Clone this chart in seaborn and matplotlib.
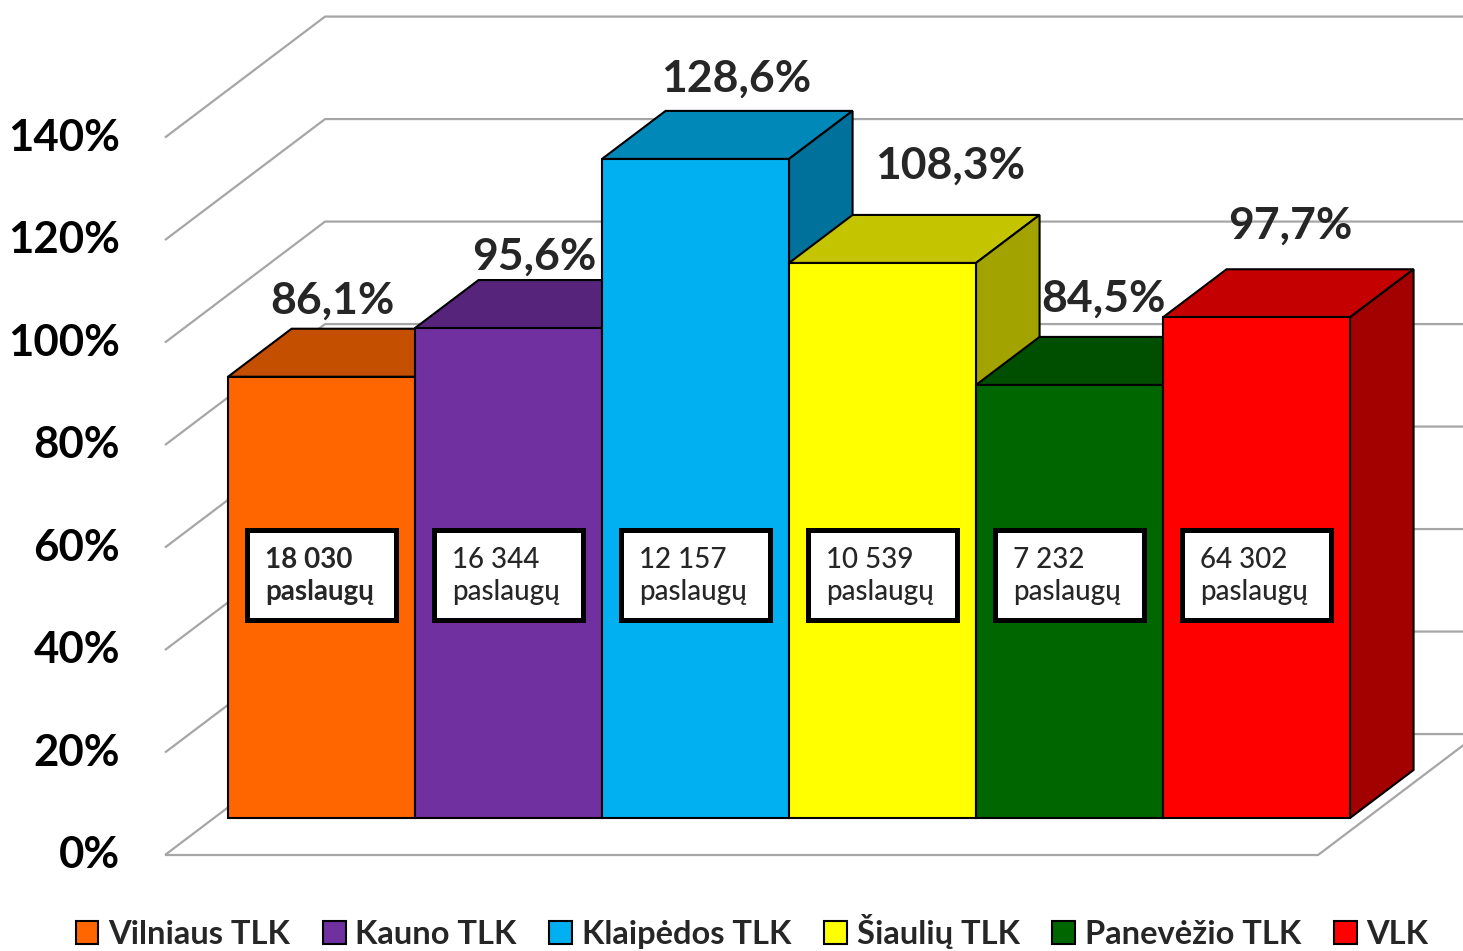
import matplotlib.pyplot as plt
import seaborn as sns
from matplotlib.patches import Polygon, Rectangle, Patch
from matplotlib.colors import to_rgb

# duomenys
categories = ["Vilniaus TLK", "Kauno TLK", "Klaipėdos TLK", "Šiaulių TLK", "Panevėžio TLK", "VLK"]
percent = [86.1, 95.6, 128.6, 108.3, 84.5, 97.7]
services = ["18 030", "16 344", "12 157", "10 539", "7 232", "64 302"]
colors = ["#FF6600", "#7030A0", "#00B0F0", "#FFFF00", "#006600", "#FF0000"]
yticks = [0, 20, 40, 60, 80, 100, 120, 140]

# value label nudges (Excel shifted them a bit)
label_dx = [0.06, 0.14, 0.22, 0.36, 0.18, 0.18]
label_dy = [2.9, 2.1, 3.7, 7.0, 4.9, 5.9]

sns.set_theme(style="white")
plt.rcParams['font.family'] = ['Lato', 'DejaVu Sans']

fig = plt.figure(figsize=(14.63, 9.51), dpi=100)
ax = fig.add_axes([0, 0, 1, 1])

# oblique "3d" geometry, in data units
wall_dx, wall_dy = 0.856, 23.6     # full floor depth
front = 0.306                      # bars sit this far back
bar_dx, bar_dy = 0.34, 9.37        # bar depth
fx0, fx1 = -0.837, 5.329
fy = -wall_dy * front
bx0, by = fx0 + wall_dx, fy + wall_dy

grid_kw = dict(color="#A6A6A6", lw=1.6, zorder=1, solid_capstyle="butt")
for v in yticks:
    ax.plot([fx0, bx0, 7], [v + fy, v + by, v + by], **grid_kw)
    ax.text(-1.0775, v + fy, f"{v}%", ha="right", va="center",
            fontsize=31.5, fontweight="bold", color="black")
# floor
ax.plot([fx0, fx1, fx1 + wall_dx], [fy, fy, by], **grid_kw)

sns.barplot(x=categories, y=percent, hue=categories, palette=colors,
            width=1.0, saturation=1, edgecolor="black", linewidth=1.5,
            legend=False, ax=ax, zorder=3)

bars = list(ax.patches)
for i, p in enumerate(bars):
    x0, w, h = p.get_x(), p.get_width(), p.get_height()
    rgb = to_rgb(colors[i])
    top_c = tuple(c * 0.77 for c in rgb)
    side_c = tuple(c * 0.64 for c in rgb)
    top = Polygon([(x0, h), (x0 + w, h), (x0 + w + bar_dx, h + bar_dy), (x0 + bar_dx, h + bar_dy)],
                  closed=True, fc=top_c, ec="black", lw=1.5, zorder=2 + i * 0.01)
    side = Polygon([(x0 + w, 0), (x0 + w + bar_dx, bar_dy), (x0 + w + bar_dx, h + bar_dy), (x0 + w, h)],
                   closed=True, fc=side_c, ec="black", lw=1.5, zorder=2 + i * 0.01 + 0.005)
    ax.add_patch(top)
    ax.add_patch(side)

    cx = x0 + w / 2
    ax.text(cx + label_dx[i], h + bar_dy + label_dy[i], f"{percent[i]:.1f}%".replace(".", ","),
            ha="center", va="baseline", fontsize=32, fontweight="bold", zorder=6)

    # box with service count
    ax.add_patch(Rectangle((cx - 0.3985, 47.4 - 8.7), 0.797, 17.4, fc="white",
                           ec="black", lw=3.6, zorder=5))
    ax.text(cx - 0.30, 47.2, f"{services[i]}\npaslaugų", ha="left", va="center",
            fontsize=20, fontweight="bold" if i == 0 else "medium",
            linespacing=1.3, zorder=6)

ax.set_xlim(-1.7193, 6.1043)
ax.set_ylim(-25.95, 159.61)
ax.axis("off")

handles = [Patch(facecolor=c, edgecolor="black", lw=1.5) for c in colors]
fig.legend(handles, categories, loc="lower center", bbox_to_anchor=(0.514, -0.029),
           ncol=6, frameon=False, prop=dict(size=23.5, weight="bold"),
           handlelength=0.7, handleheight=0.7, handletextpad=0.3, columnspacing=1.0)

fig.savefig("out.png", dpi=100)
